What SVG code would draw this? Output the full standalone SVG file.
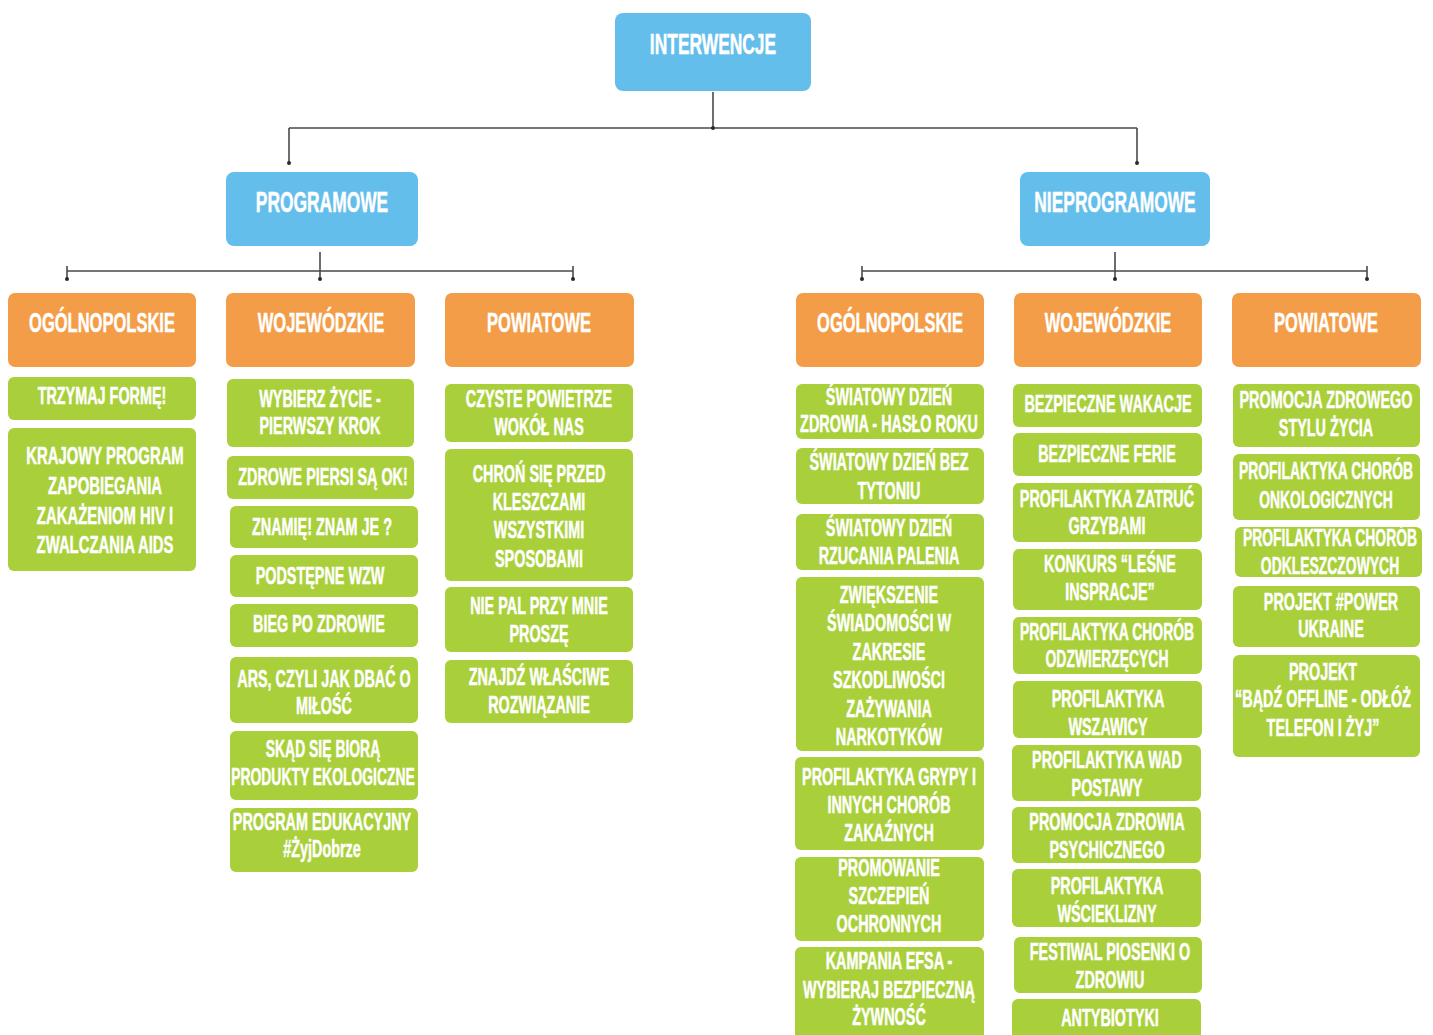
<svg xmlns="http://www.w3.org/2000/svg" width="1433" height="1035" viewBox="0 0 1433 1035">
<style>
.b{fill:#64BEEB}
.o{fill:#F39D48}
.g{fill:#A9D03B}
text{fill:#fff;stroke:#fff;stroke-width:0.5;font-family:"Liberation Sans",Arial,sans-serif;font-weight:bold;text-anchor:middle}
.t1{font-size:29px}
.t2{font-size:28px}
.t3{font-size:24px}
.ln{stroke:#4a4a4a;stroke-width:1.6;fill:none}
.dt{fill:#2a2a2a}
</style>
<rect width="1433" height="1035" fill="#fff"/>
<g id="connectors">
<path class="ln" d="M713 92V128M289 128H1137M289 128V163M1137 128V163"/>
<circle class="dt" cx="713" cy="128" r="2"/><circle class="dt" cx="289" cy="163" r="2"/><circle class="dt" cx="1137" cy="163" r="2"/>
<path class="ln" d="M320 252V279M67 271H573M67 266V279M573 266V279"/>
<circle class="dt" cx="320" cy="279" r="2"/><circle class="dt" cx="67" cy="279" r="2"/><circle class="dt" cx="573" cy="279" r="2"/>
<path class="ln" d="M1115 252V279M862 271H1367M862 266V279M1367 266V279"/>
<circle class="dt" cx="1115" cy="279" r="2"/><circle class="dt" cx="862" cy="279" r="2"/><circle class="dt" cx="1367" cy="279" r="2"/>
</g>
<g id="interwencje"><rect class="b" x="615" y="13" width="196" height="78" rx="8"/><text class="t1" transform="translate(713 0) scale(.6 1)"><tspan x="0" y="54">INTERWENCJE</tspan></text></g>
<g id="programowe"><rect class="b" x="226" y="172" width="192" height="74" rx="8"/><text class="t1" transform="translate(322 0) scale(.6 1)"><tspan x="0" y="212">PROGRAMOWE</tspan></text></g>
<g id="nieprogramowe"><rect class="b" x="1020" y="172" width="190" height="74" rx="8"/><text class="t1" transform="translate(1115 0) scale(.6 1)"><tspan x="0" y="212">NIEPROGRAMOWE</tspan></text></g>

<g id="p-ogolnopolskie"><rect class="o" x="8" y="293" width="188" height="74" rx="7"/><text class="t2" transform="translate(102 0) scale(.59 1)"><tspan x="0" y="332">OGÓLNOPOLSKIE</tspan></text></g>
<g id="p-wojewodzkie"><rect class="o" x="226" y="293" width="189" height="74" rx="7"/><text class="t2" transform="translate(321 0) scale(.59 1)"><tspan x="0" y="332">WOJEWÓDZKIE</tspan></text></g>
<g id="p-powiatowe"><rect class="o" x="445" y="293" width="189" height="74" rx="7"/><text class="t2" transform="translate(539 0) scale(.59 1)"><tspan x="0" y="332">POWIATOWE</tspan></text></g>
<g id="n-ogolnopolskie"><rect class="o" x="796" y="293" width="188" height="74" rx="7"/><text class="t2" transform="translate(890 0) scale(.59 1)"><tspan x="0" y="332">OGÓLNOPOLSKIE</tspan></text></g>
<g id="n-wojewodzkie"><rect class="o" x="1014" y="293" width="188" height="74" rx="7"/><text class="t2" transform="translate(1108 0) scale(.59 1)"><tspan x="0" y="332">WOJEWÓDZKIE</tspan></text></g>
<g id="n-powiatowe"><rect class="o" x="1232" y="293" width="189" height="74" rx="7"/><text class="t2" transform="translate(1326 0) scale(.59 1)"><tspan x="0" y="332">POWIATOWE</tspan></text></g>

<g id="trzymaj"><rect class="g" x="8" y="377" width="188" height="43" rx="6"/><text class="t3" transform="translate(102 0) scale(.6 1)"><tspan x="0" y="404">TRZYMAJ FORMĘ!</tspan></text></g>
<g id="krajowy"><rect class="g" x="8" y="428" width="188" height="143" rx="6"/><text class="t3" transform="translate(105 0) scale(.62 1)"><tspan x="0" y="464">KRAJOWY PROGRAM</tspan><tspan x="0" y="494">ZAPOBIEGANIA</tspan><tspan x="0" y="524">ZAKAŻENIOM HIV I</tspan><tspan x="0" y="553">ZWALCZANIA AIDS</tspan></text></g>

<g id="wybierz"><rect class="g" x="227" y="379" width="187" height="68" rx="6"/><text class="t3" transform="translate(320 0) scale(.6 1)"><tspan x="0" y="407">WYBIERZ ŻYCIE -</tspan><tspan x="0" y="434">PIERWSZY KROK</tspan></text></g>
<g id="piersi"><rect class="g" x="227" y="456" width="187" height="43" rx="6"/><text class="t3" transform="translate(323 0) scale(.6 1)"><tspan x="0" y="485">ZDROWE PIERSI SĄ OK!</tspan></text></g>
<g id="znamie"><rect class="g" x="230" y="506" width="188" height="42" rx="6"/><text class="t3" transform="translate(322 0) scale(.6 1)"><tspan x="0" y="535">ZNAMIĘ! ZNAM JE ?</tspan></text></g>
<g id="wzw"><rect class="g" x="230" y="555" width="188" height="42" rx="6"/><text class="t3" transform="translate(320 0) scale(.6 1)"><tspan x="0" y="584">PODSTĘPNE WZW</tspan></text></g>
<g id="bieg"><rect class="g" x="230" y="604" width="188" height="43" rx="6"/><text class="t3" transform="translate(319 0) scale(.6 1)"><tspan x="0" y="632">BIEG PO ZDROWIE</tspan></text></g>
<g id="ars"><rect class="g" x="230" y="657" width="188" height="66" rx="6"/><text class="t3" transform="translate(324 0) scale(.6 1)"><tspan x="0" y="687">ARS, CZYLI JAK DBAĆ O</tspan><tspan x="0" y="714">MIŁOŚĆ</tspan></text></g>
<g id="skad"><rect class="g" x="230" y="731" width="188" height="69" rx="6"/><text class="t3" transform="translate(323 0) scale(.58 1)"><tspan x="0" y="757">SKĄD SIĘ BIORĄ</tspan><tspan x="0" y="785">PRODUKTY EKOLOGICZNE</tspan></text></g>
<g id="edukacyjny"><rect class="g" x="230" y="808" width="188" height="64" rx="6"/><text class="t3" transform="translate(322 0) scale(.6 1)"><tspan x="0" y="830">PROGRAM EDUKACYJNY</tspan><tspan x="0" y="857">#ŻyjDobrze</tspan></text></g>

<g id="czyste"><rect class="g" x="445" y="384" width="188" height="58" rx="6"/><text class="t3" transform="translate(539 0) scale(.6 1)"><tspan x="0" y="407">CZYSTE POWIETRZE</tspan><tspan x="0" y="435">WOKÓŁ NAS</tspan></text></g>
<g id="chron"><rect class="g" x="445" y="449" width="188" height="132" rx="6"/><text class="t3" transform="translate(539 0) scale(.6 1)"><tspan x="0" y="482">CHROŃ SIĘ PRZED</tspan><tspan x="0" y="510">KLESZCZAMI</tspan><tspan x="0" y="538">WSZYSTKIMI</tspan><tspan x="0" y="567">SPOSOBAMI</tspan></text></g>
<g id="niepal"><rect class="g" x="445" y="587" width="188" height="65" rx="6"/><text class="t3" transform="translate(539 0) scale(.6 1)"><tspan x="0" y="614">NIE PAL PRZY MNIE</tspan><tspan x="0" y="642">PROSZĘ</tspan></text></g>
<g id="znajdz"><rect class="g" x="445" y="660" width="188" height="63" rx="6"/><text class="t3" transform="translate(539 0) scale(.6 1)"><tspan x="0" y="685">ZNAJDŹ WŁAŚCIWE</tspan><tspan x="0" y="713">ROZWIĄZANIE</tspan></text></g>

<g id="dzien-zdrowia"><rect class="g" x="796" y="384" width="188" height="55" rx="6"/><text class="t3" transform="translate(889 0) scale(.6 1)"><tspan x="0" y="405">ŚWIATOWY DZIEŃ</tspan><tspan x="0" y="432">ZDROWIA - HASŁO ROKU</tspan></text></g>
<g id="bez-tytoniu"><rect class="g" x="796" y="448" width="188" height="56" rx="6"/><text class="t3" transform="translate(889 0) scale(.6 1)"><tspan x="0" y="470">ŚWIATOWY DZIEŃ BEZ</tspan><tspan x="0" y="499">TYTONIU</tspan></text></g>
<g id="rzucania"><rect class="g" x="796" y="514" width="188" height="56" rx="6"/><text class="t3" transform="translate(889 0) scale(.6 1)"><tspan x="0" y="536">ŚWIATOWY DZIEŃ</tspan><tspan x="0" y="564">RZUCANIA PALENIA</tspan></text></g>
<g id="zwiekszenie"><rect class="g" x="796" y="577" width="188" height="174" rx="6"/><text class="t3" transform="translate(889 0) scale(.6 1)"><tspan x="0" y="603">ZWIĘKSZENIE</tspan><tspan x="0" y="631">ŚWIADOMOŚCI W</tspan><tspan x="0" y="660">ZAKRESIE</tspan><tspan x="0" y="688">SZKODLIWOŚCI</tspan><tspan x="0" y="717">ZAŻYWANIA</tspan><tspan x="0" y="745">NARKOTYKÓW</tspan></text></g>
<g id="grypy"><rect class="g" x="795" y="757" width="189" height="93" rx="6"/><text class="t3" transform="translate(889 0) scale(.6 1)"><tspan x="0" y="785">PROFILAKTYKA GRYPY I</tspan><tspan x="0" y="813">INNYCH CHORÓB</tspan><tspan x="0" y="841">ZAKAŹNYCH</tspan></text></g>
<g id="szczepien"><rect class="g" x="795" y="857" width="189" height="84" rx="6"/><text class="t3" transform="translate(889 0) scale(.6 1)"><tspan x="0" y="876">PROMOWANIE</tspan><tspan x="0" y="904">SZCZEPIEŃ</tspan><tspan x="0" y="932">OCHRONNYCH</tspan></text></g>
<g id="efsa"><rect class="g" x="795" y="947" width="189" height="100" rx="6"/><text class="t3" transform="translate(889 0) scale(.6 1)"><tspan x="0" y="969">KAMPANIA EFSA -</tspan><tspan x="0" y="998">WYBIERAJ BEZPIECZNĄ</tspan><tspan x="0" y="1025">ŻYWNOŚĆ</tspan></text></g>

<g id="wakacje"><rect class="g" x="1013" y="384" width="189" height="43" rx="6"/><text class="t3" transform="translate(1108 0) scale(.6 1)"><tspan x="0" y="412">BEZPIECZNE WAKACJE</tspan></text></g>
<g id="ferie"><rect class="g" x="1013" y="433" width="189" height="43" rx="6"/><text class="t3" transform="translate(1107 0) scale(.6 1)"><tspan x="0" y="462">BEZPIECZNE FERIE</tspan></text></g>
<g id="zatruc"><rect class="g" x="1013" y="483" width="189" height="59" rx="6"/><text class="t3" transform="translate(1107 0) scale(.6 1)"><tspan x="0" y="507">PROFILAKTYKA ZATRUĆ</tspan><tspan x="0" y="534">GRZYBAMI</tspan></text></g>
<g id="konkurs"><rect class="g" x="1013" y="549" width="189" height="61" rx="6"/><text class="t3" transform="translate(1110 0) scale(.6 1)"><tspan x="0" y="572">KONKURS “LEŚNE</tspan><tspan x="0" y="600">INSPRACJE”</tspan></text></g>
<g id="odzwierzecych"><rect class="g" x="1013" y="617" width="189" height="57" rx="6"/><text class="t3" transform="translate(1107 0) scale(.58 1)"><tspan x="0" y="640">PROFILAKTYKA CHORÓB</tspan><tspan x="0" y="667">ODZWIERZĘCYCH</tspan></text></g>
<g id="wszawicy"><rect class="g" x="1013" y="681" width="189" height="57" rx="6"/><text class="t3" transform="translate(1108 0) scale(.6 1)"><tspan x="0" y="707">PROFILAKTYKA</tspan><tspan x="0" y="735">WSZAWICY</tspan></text></g>
<g id="postawy"><rect class="g" x="1012" y="745" width="189" height="56" rx="6"/><text class="t3" transform="translate(1107 0) scale(.6 1)"><tspan x="0" y="768">PROFILAKTYKA WAD</tspan><tspan x="0" y="796">POSTAWY</tspan></text></g>
<g id="psychicznego"><rect class="g" x="1012" y="807" width="189" height="56" rx="6"/><text class="t3" transform="translate(1107 0) scale(.6 1)"><tspan x="0" y="830">PROMOCJA ZDROWIA</tspan><tspan x="0" y="858">PSYCHICZNEGO</tspan></text></g>
<g id="wscieklizny"><rect class="g" x="1012" y="869" width="189" height="58" rx="6"/><text class="t3" transform="translate(1107 0) scale(.6 1)"><tspan x="0" y="894">PROFILAKTYKA</tspan><tspan x="0" y="922">WŚCIEKLIZNY</tspan></text></g>
<g id="festiwal"><rect class="g" x="1014" y="937" width="188" height="56" rx="6"/><text class="t3" transform="translate(1110 0) scale(.6 1)"><tspan x="0" y="960">FESTIWAL PIOSENKI O</tspan><tspan x="0" y="988">ZDROWIU</tspan></text></g>
<g id="antybiotyki"><rect class="g" x="1012" y="999" width="189" height="50" rx="6"/><text class="t3" transform="translate(1110 0) scale(.6 1)"><tspan x="0" y="1026">ANTYBIOTYKI</tspan></text></g>

<g id="styl-zycia"><rect class="g" x="1233" y="384" width="187" height="63" rx="6"/><text class="t3" transform="translate(1326 0) scale(.6 1)"><tspan x="0" y="408">PROMOCJA ZDROWEGO</tspan><tspan x="0" y="436">STYLU ŻYCIA</tspan></text></g>
<g id="onkologicznych"><rect class="g" x="1233" y="454" width="187" height="66" rx="6"/><text class="t3" transform="translate(1326 0) scale(.58 1)"><tspan x="0" y="479">PROFILAKTYKA CHORÓB</tspan><tspan x="0" y="508">ONKOLOGICZNYCH</tspan></text></g>
<g id="odkleszczowych"><rect class="g" x="1235" y="527" width="187" height="50" rx="6"/><text class="t3" transform="translate(1330 0) scale(.58 1)"><tspan x="0" y="546">PROFILAKTYKA CHORÓB</tspan><tspan x="0" y="574">ODKLESZCZOWYCH</tspan></text></g>
<g id="power"><rect class="g" x="1233" y="586" width="187" height="61" rx="6"/><text class="t3" transform="translate(1331 0) scale(.6 1)"><tspan x="0" y="610">PROJEKT #POWER</tspan><tspan x="0" y="637">UKRAINE</tspan></text></g>
<g id="offline"><rect class="g" x="1233" y="655" width="187" height="102" rx="6"/><text class="t3" transform="translate(1323 0) scale(.6 1)"><tspan x="0" y="680">PROJEKT</tspan><tspan x="0" y="707">“BĄDŹ OFFLINE - ODŁÓŻ</tspan><tspan x="0" y="736">TELEFON I ŻYJ”</tspan></text></g>
</svg>
